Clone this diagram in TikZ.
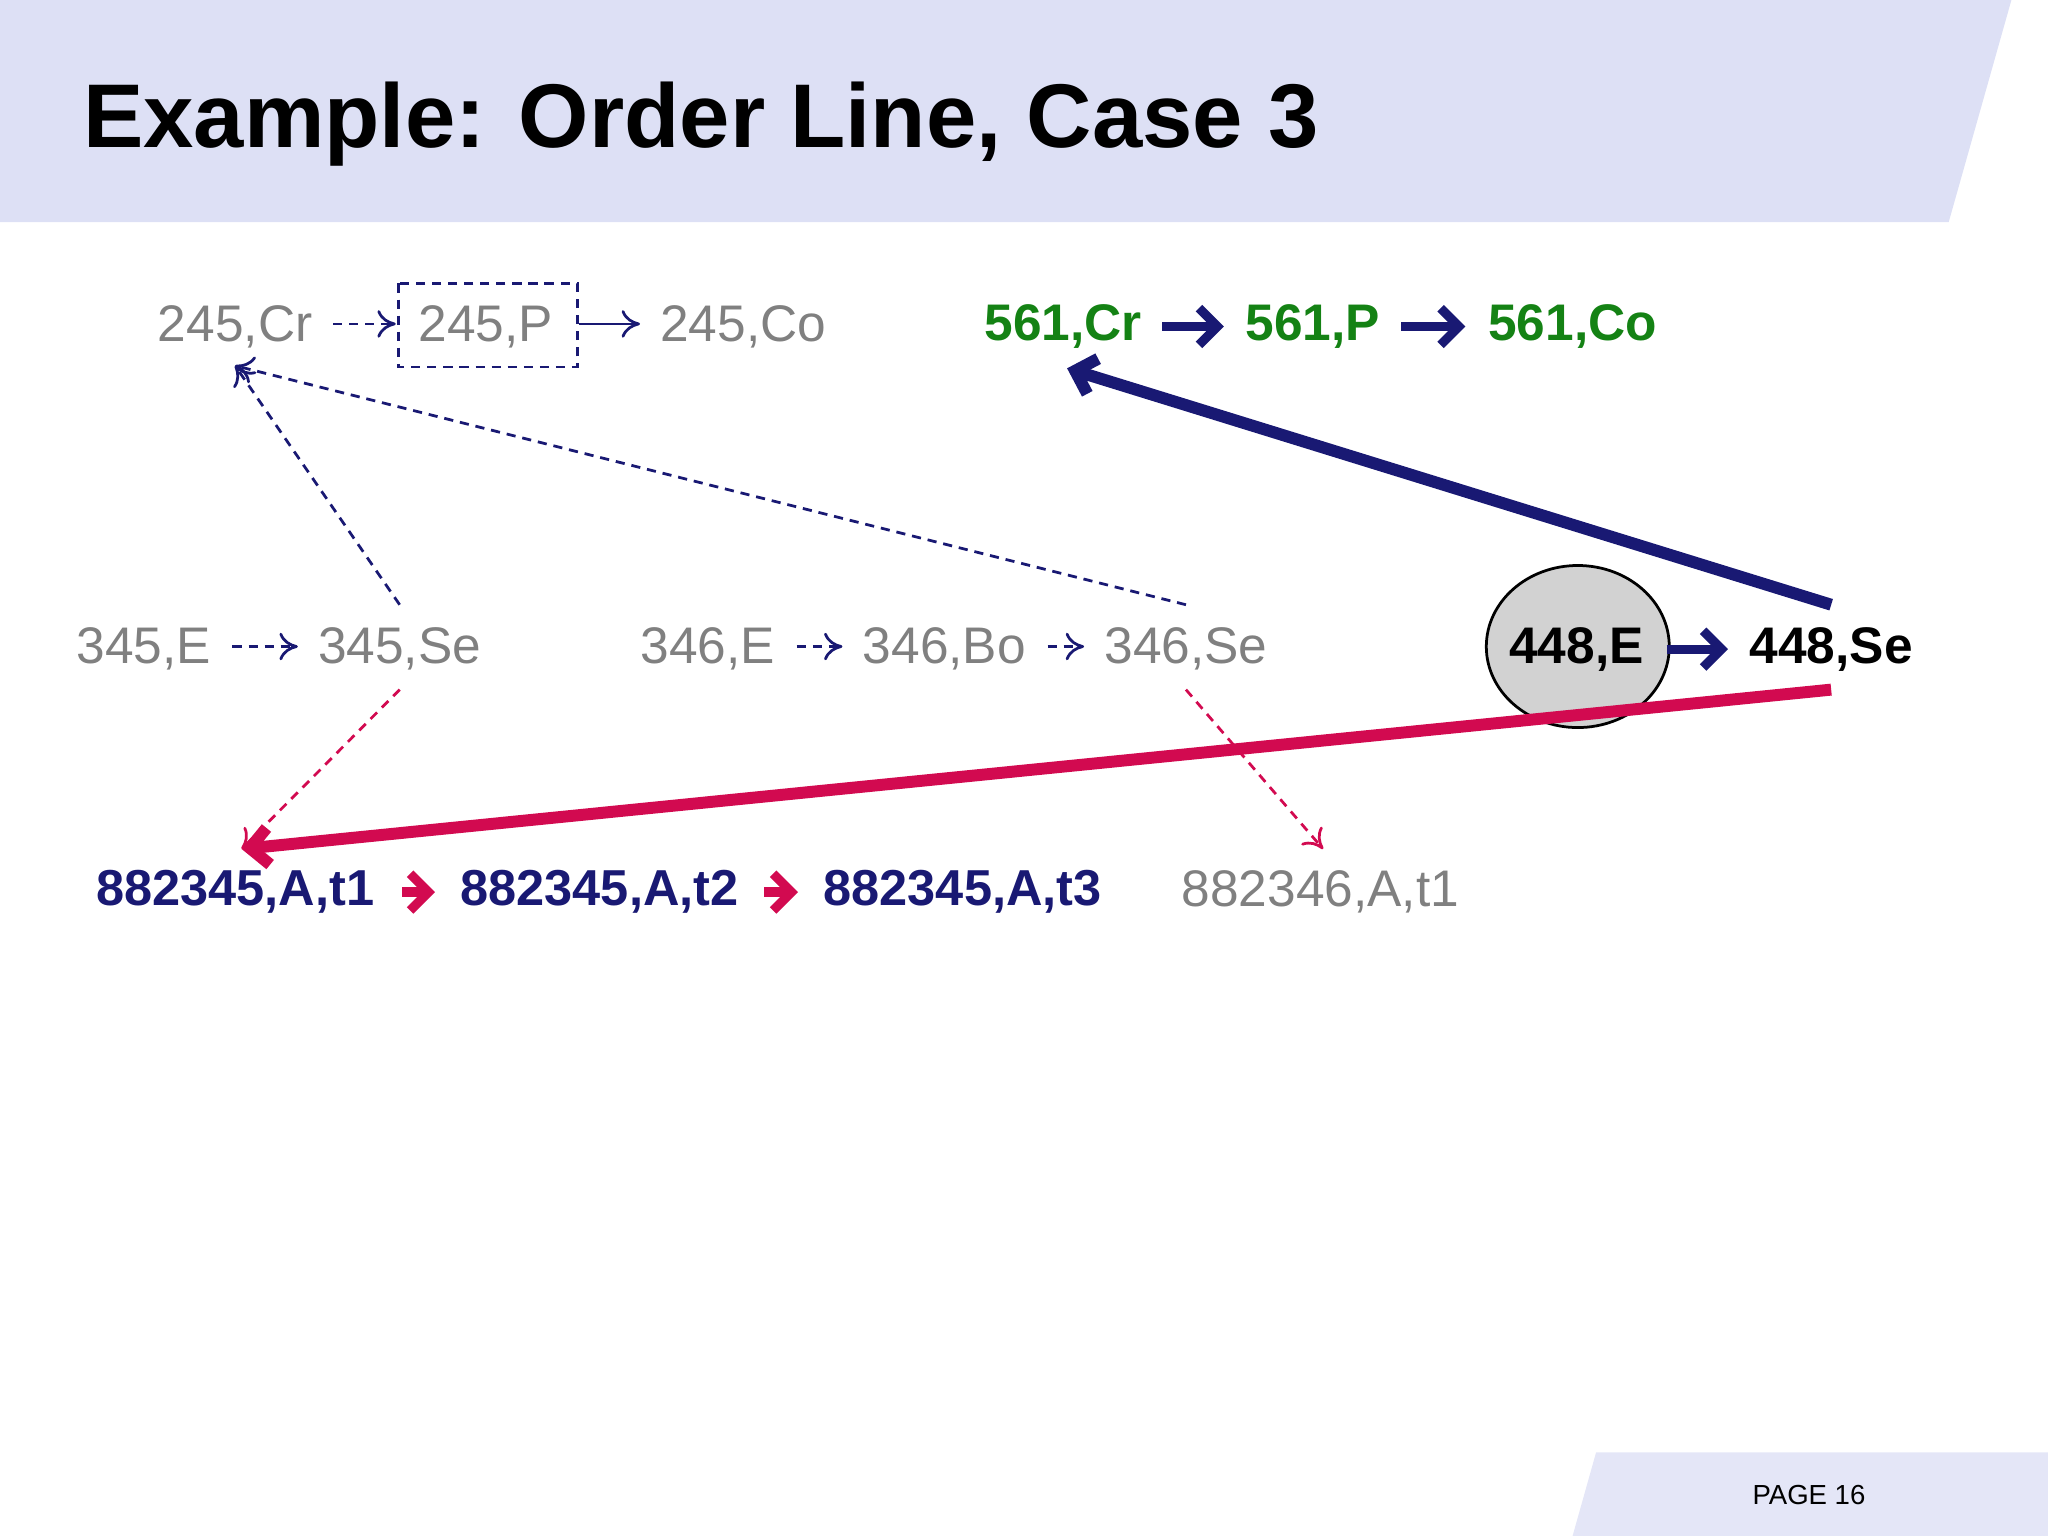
\documentclass[tikz,border=0pt]{standalone}
\usepackage{fontspec}
\setmainfont{Liberation Sans}
\usetikzlibrary{arrows.meta,shapes.geometric}
\definecolor{navy}{RGB}{25,25,115}
\definecolor{gry}{RGB}{128,128,128}
\definecolor{grn}{RGB}{20,130,20}
\definecolor{crim}{RGB}{210,10,80}
\definecolor{hdr}{RGB}{221,224,245}
\tikzset{
 g/.style={text=gry,font=\fontsize{11.2}{13}\selectfont,inner sep=0pt},
 gb/.style={text=grn,font=\fontsize{11.2}{13}\selectfont\bfseries,inner sep=0pt},
 nb/.style={text=navy,font=\fontsize{11}{13}\selectfont\bfseries,inner sep=0pt},
 kb/.style={text=black,font=\fontsize{11.2}{13}\selectfont\bfseries,inner sep=0pt},
 thin/.style={navy,line width=0.6pt,-{To[length=4pt,width=6pt]}},
 dsh/.style={dash pattern=on 2pt off 1.5pt},
 thick/.style={navy,line width=2pt,-{Straight Barb[length=4pt,width=8pt]}},
 cthick/.style={crim,line width=2pt,-{Straight Barb[length=4pt,width=8pt]}},
}
\begin{document}
\begin{tikzpicture}[x=0.01cm,y=-0.01cm]
\useasboundingbox (0,0) rectangle (1568,1176);
\fill[hdr] (0,0)--(1540,0)--(1492,170)--(0,170)--cycle;
\fill[hdr!80!white] (1222,1112)--(1568,1112)--(1568,1176)--(1204,1176)--cycle;
\node[anchor=base west,inner sep=0pt,font=\fontsize{19.7}{22}\selectfont\bfseries] (title) at (63,113) {Example: Order Line, Case 3};
\node[font=\fontsize{6}{8}\selectfont,inner sep=0pt] (pg) at (1385,1145) {PAGE 16};
% row 1
\node[g] (a1) at (180,250) {245,Cr};
\node[g] (a2) at (372,250) {245,P};
\draw[navy,dsh,line width=0.6pt] (305,217) rectangle (442,281);
\node[g] (a3) at (569,250) {245,Co};
\node[gb] (b1) at (814,250) {561,Cr};
\node[gb] (b2) at (1005,250) {561,P};
\node[gb] (b3) at (1204,250) {561,Co};
% row 2
\node[g] (c1) at (110,497) {345,E};
\node[g] (c2) at (306,497) {345,Se};
\node[g] (d1) at (542,497) {346,E};
\node[g] (d2) at (723,497) {346,Bo};
\node[g] (d3) at (908,497) {346,Se};
\node[ellipse,draw=black,fill=gray!35,line width=0.6pt,inner sep=0pt,minimum width=1.4cm,minimum height=1.24cm] (ell) at (1208,495) {};
\node[kb] (e1) at (1207,497) {448,E};
\node[kb] (e2) at (1402,497) {448,Se};
% row 3
\node[nb] (f1) at (180,683) {882345,A,t1};
\node[nb] (f2) at (459,683) {882345,A,t2};
\node[nb] (f3) at (737,683) {882345,A,t3};
\node[g] (f4) at (1011,683) {882346,A,t1};
% coordinates
\coordinate (t245) at (180,280);
\coordinate (c2t) at (306,463);
\coordinate (d3t) at (908,463);
\coordinate (e2t) at (1402,463);
\coordinate (e2b) at (1402,528);
\coordinate (c2b) at (306,528);
\coordinate (d3b) at (908,528);
\coordinate (f1t) at (185,650);
\coordinate (f4t) at (1013,650);
\coordinate (b1b) at (817,282);
% small arrows
\draw[thin,dsh] (255,248) -- (303,248);
\draw[thin] (443,248) -- (490,248);
\draw[thin,dsh] (178,495) -- (228,495);
\draw[thin,dsh] (610,495) -- (645,495);
\draw[thin,dsh] (802,495) -- (830,495);
\draw[thick] (890,250) -- (937,250);
\draw[thick] (1073,250) -- (1122,250);
\draw[thick] (1276,497) -- (1323,497);
\draw[cthick] (308,683) -- (333,683);
\draw[cthick] (585,683) -- (611,683);
% long arrows
\draw[thin,dsh] (c2t) -- (t245);
\draw[thin,dsh] (d3t) -- (t245);
\draw[thick,line width=2.6pt] (e2t) -- (b1b);
\draw[cthick,line width=2.6pt] (e2b) -- (f1t);
\draw[crim,line width=0.6pt,dsh,-{To[length=4pt,width=6pt]}] (c2b) -- (f1t);
\draw[crim,line width=0.6pt,dsh,-{To[length=4pt,width=6pt]}] (d3b) -- (f4t);
\end{tikzpicture}
\end{document}
